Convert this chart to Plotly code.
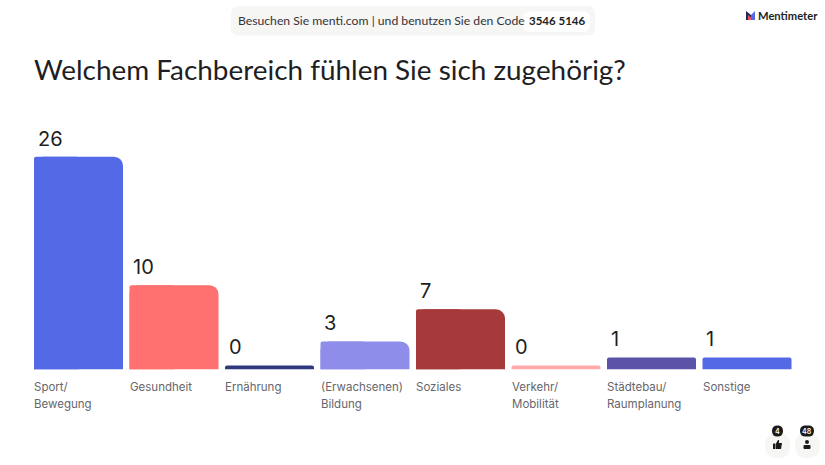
import plotly.graph_objects as go

W, H = 825, 465

title = "Welchem Fachbereich fühlen Sie sich zugehörig?"
categories = ["Sport/<br>Bewegung", "Gesundheit", "Ernährung", "(Erwachsenen)<br>Bildung",
              "Soziales", "Verkehr/<br>Mobilität", "Städtebau/<br>Raumplanung", "Sonstige"]
values = [26, 10, 0, 3, 7, 0, 1, 1]
colors = ["#5469E6", "#FF7070", "#2F3A7E", "#8F8DEA", "#A63A3A", "#FFA9AB", "#5A53A8", "#5469E6"]
corner = [9, 9, 2, 9, 9, 2, 2, 2]
# empty answers still get a thin bar, so every bar is a bit taller than its value
floor = 0.5
bar_w = 0.932

FONT = "Inter"
HEAD_FONT = "Lato"
INK = "#1E1E23"
GREY = "#66666C"


def px(x):
    return x / W


def py(y):
    return 1 - y / H


def rrect(x0, y0, x1, y1, r, fill):
    # rounded rectangle, given in page pixels
    a, b, c, d = px(x0), px(x1), py(y0), py(y1)
    rx, ry = px(r), r / H
    path = (f"M{a + rx},{c} L{b - rx},{c} Q{b},{c} {b},{c - ry} L{b},{d + ry} Q{b},{d} {b - rx},{d} "
            f"L{a + rx},{d} Q{a},{d} {a},{d + ry} L{a},{c - ry} Q{a},{c} {a + rx},{c} Z")
    return dict(type="path", xref="paper", yref="paper", path=path, fillcolor=fill, line_width=0, layer="below")


def poly(points, fill):
    path = "M" + " L".join(f"{px(x)},{py(y)}" for x, y in points) + " Z"
    return dict(type="path", xref="paper", yref="paper", path=path, fillcolor=fill, line_width=0)


def text(x, y, s, size, color=INK, anchor="left", weight=400, family=HEAD_FONT):
    return dict(xref="paper", yref="paper", x=px(x), y=py(y), text=s, showarrow=False, xanchor=anchor,
                yanchor="middle", font=dict(family=family, size=size, color=color, weight=weight))


fig = go.Figure()
for cat, val, col, rad in zip(categories, values, colors, corner):
    fig.add_trace(go.Bar(x=[cat], y=[val + floor], width=bar_w,
                         marker=dict(color=col, cornerradius=rad, line_width=0),
                         showlegend=False, hoverinfo="skip"))
    if rad > 2:
        # left half again with a tight corner, the reference only rounds the right one
        fig.add_trace(go.Bar(x=[cat], y=[val + floor], width=bar_w / 2, offset=-bar_w / 2,
                             marker=dict(color=col, cornerradius=2, line_width=0),
                             showlegend=False, hoverinfo="skip"))

annotations = [
    text(31.5, 69, title, 27.9),
    text(236, 20.5, "Besuchen Sie menti.com | und benutzen Sie den Code", 12.2, "#33333A"),
    text(556.5, 20.5, "3546 5146", 11.5, INK, "center", 700),
    text(756, 15.5, "Mentimeter", 11.2, INK, weight=700),
    text(777.5, 431, "4", 7, "white", "center", 600, FONT),
    text(807, 431, "48", 7, "white", "center", 600, FONT),
]
for cat, val in zip(categories, values):
    # value above the bar
    annotations.append(dict(x=cat, y=val + floor, xref="x", yref="y", text=str(val), showarrow=False,
                            xanchor="left", yanchor="bottom", xshift=-43, yshift=4,
                            font=dict(family=FONT, size=20, color=INK)))
    # category label under the bar, one annotation per line for the wider line gap
    for i, line in enumerate(cat.split("<br>")):
        annotations.append(dict(x=cat, y=0, xref="x", yref="y", text=line, showarrow=False,
                                xanchor="left", yanchor="top", xshift=-46.5, yshift=-8 - 17 * i,
                                font=dict(family=FONT, size=11.5, color=GREY)))

shapes = [
    rrect(231, 6, 595, 35.5, 8, "#F6F6F4"),
    rrect(523, 11.5, 590, 32, 7, "#FFFFFF"),
    # logo
    poly([(746, 11), (751, 15), (751, 20), (746, 20)], "#1F2A5C"),
    poly([(751, 15), (755, 11), (755, 20), (751, 20)], "#5469E6"),
    poly([(748, 15), (751, 17.5), (751, 20), (748, 20)], "#E8505B"),
    # reaction buttons
    rrect(765, 433, 790, 458, 12.5, "#F6F6F4"),
    rrect(795, 433, 820, 458, 12.5, "#F6F6F4"),
    rrect(772, 425.5, 783, 436.5, 5.5, "#1A1A1A"),
    rrect(800, 425.5, 814, 436.5, 5.5, "#1A1A1A"),
    # thumb
    rrect(773, 443.5, 775.5, 449, 0.5, "#1A1A1A"),
    poly([(776, 443.5), (778, 440), (779, 440), (779, 443), (782, 443), (781, 449), (776, 449)], "#1A1A1A"),
    # person
    rrect(805, 440, 809, 444, 2, "#1A1A1A"),
    rrect(803.5, 445, 810.5, 449, 1, "#1A1A1A"),
]

fig.update_layout(
    width=W, height=H, margin=dict(l=0, r=0, t=0, b=0),
    paper_bgcolor="white", plot_bgcolor="white", barmode="overlay",
    xaxis=dict(domain=[30.75 / W, 794.75 / W], range=[-0.5, 7.5], visible=False,
               type="category", categoryorder="array", categoryarray=categories),
    yaxis=dict(domain=[(H - 369.5) / H, (H - 100) / H], range=[0, 33.56], visible=False),
    shapes=shapes, annotations=annotations,
)

fig.write_html("out.html", config={"displayModeBar": False},
               post_script="document.body.style.margin='0';")
